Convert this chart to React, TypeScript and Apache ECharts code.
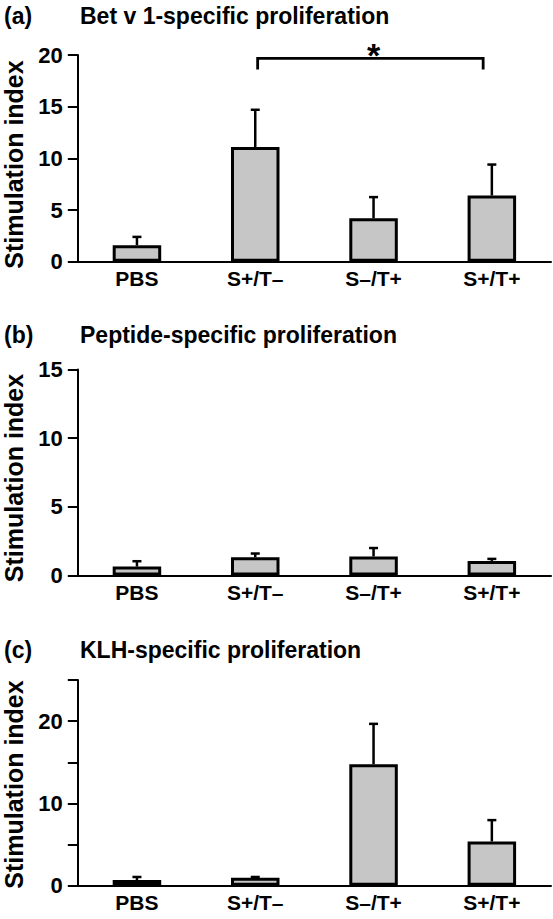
import React, { useEffect, useRef } from 'react';
import * as echarts from 'echarts';

// ---- data ----
const categories = ['PBS', 'S+/T–', 'S–/T+', 'S+/T+'];
const betMean = [1.6, 11.1, 4.2, 6.4];
const betSem = [0.8, 3.6, 2.05, 3.0];
const peptideMean = [0.65, 1.33, 1.38, 1.06];
const peptideSem = [0.39, 0.27, 0.62, 0.15];
const klhMean = [0.69, 0.98, 14.76, 5.37];
const klhSem = [0.37, 0.08, 4.91, 2.6];
const panelLetters = ['(a)', '(b)', '(c)'];
const panelTitles = [
  'Bet v 1-specific proliferation',
  'Peptide-specific proliferation',
  'KLH-specific proliferation',
];
const yAxisName = 'Stimulation index';
const yMaxes = [20, 15, 25];
const yTickStep = 5;
const yLabelSteps = [5, 5, 10];
// significance bracket in panel (a): between category 1 and 3
const sigFrom = 1;
const sigTo = 3;
const sigLevel = 19.68;
const sigLegEnd = 18.6;
const sigLabel = '*';

// ---- layout / style ----
const FONT = "'Liberation Sans', Arial, Helvetica, sans-serif";
const gridLeft = 77.8;
const gridWidth = 473.2;
const gridTops = [55, 369.5, 680];
const gridHeights = [206.7, 206, 205.7];
const titleYs = [16, 335.3, 650.3];
const nameYs = [164.5, 478, 784.5];
const barFill = '#c6c6c6';

export default function App() {
  const ref = useRef<HTMLDivElement>(null);

  useEffect(() => {
    if (!ref.current) return;
    const chart = echarts.init(ref.current, null, { renderer: 'svg' });

    const means = [betMean, peptideMean, klhMean];
    const sems = [betSem, peptideSem, klhSem];

    const grids = gridTops.map((t, i) => ({
      left: gridLeft,
      top: t,
      width: gridWidth,
      height: gridHeights[i],
      containLabel: false,
    }));

    const xAxes = means.map((_, i) => ({
      type: 'category',
      gridIndex: i,
      data: categories,
      boundaryGap: true,
      axisLine: { show: true, lineStyle: { color: '#000', width: 2 } },
      axisTick: { show: false },
      axisLabel: {
        color: '#000',
        fontSize: 21,
        fontWeight: 'bold',
        fontFamily: FONT,
        margin: 6,
        interval: 0,
      },
    }));

    const yAxes = means.map((_, i) => ({
      type: 'value',
      gridIndex: i,
      min: 0,
      max: yMaxes[i],
      interval: yTickStep,
      axisLine: { show: true, lineStyle: { color: '#000', width: 2 } },
      axisTick: { show: true, length: 10, lineStyle: { color: '#000', width: 2 } },
      splitLine: { show: false },
      axisLabel: {
        color: '#000',
        fontSize: 22,
        fontWeight: 'bold',
        fontFamily: FONT,
        margin: 15,
        formatter: (v: number) => (v % yLabelSteps[i] === 0 ? String(v) : ''),
      },
    }));

    const series: any[] = [];
    means.forEach((m, i) => {
      series.push({
        type: 'bar',
        xAxisIndex: i,
        yAxisIndex: i,
        data: m,
        barWidth: '41%',
        silent: true,
        itemStyle: { color: barFill, borderColor: '#000', borderWidth: 3 },
        z: 2,
      });
      series.push({
        type: 'custom',
        xAxisIndex: i,
        yAxisIndex: i,
        silent: true,
        z: 3,
        encode: { x: 0, y: 2 },
        data: m.map((v, k) => [k, v, v + sems[i][k]]),
        renderItem: (params: any, api: any) => {
          const idx = api.value(0);
          const base = api.coord([idx, api.value(1)]);
          const top = api.coord([idx, api.value(2)]);
          return {
            type: 'group',
            children: [
              {
                type: 'line',
                shape: { x1: base[0], y1: base[1], x2: top[0], y2: top[1] },
                style: { stroke: '#000', lineWidth: 2.5 },
              },
              {
                type: 'line',
                shape: { x1: top[0] - 4.5, y1: top[1], x2: top[0] + 4.5, y2: top[1] },
                style: { stroke: '#000', lineWidth: 2.5 },
              },
            ],
          };
        },
      });
    });

    // significance bracket (panel a)
    series.push({
      type: 'custom',
      xAxisIndex: 0,
      yAxisIndex: 0,
      silent: true,
      clip: false,
      z: 4,
      encode: { x: 0, y: 2 },
      data: [[sigFrom, sigTo, sigLevel, sigLegEnd]],
      renderItem: (params: any, api: any) => {
        const a = api.coord([api.value(0), api.value(2)]);
        const b = api.coord([api.value(1), api.value(2)]);
        const legY = api.coord([api.value(0), api.value(3)])[1];
        const mid = api.coord([(api.value(0) + api.value(1)) / 2, api.value(2)]);
        const lx = a[0] + 2.4;
        const rx = b[0] - 8.7;
        return {
          type: 'group',
          children: [
            {
              type: 'polyline',
              shape: { points: [[lx, legY], [lx, a[1]], [rx, b[1]], [rx, legY]] },
              style: { stroke: '#000', lineWidth: 2.8, fill: 'none' },
            },
            {
              type: 'text',
              x: mid[0],
              y: a[1] - 3.7,
              style: {
                text: sigLabel,
                fontSize: 34,
                fontWeight: 'bold',
                fontFamily: FONT,
                fill: '#000',
                align: 'center',
                verticalAlign: 'middle',
              },
            },
          ],
        };
      },
    });

    const graphics: any[] = [];
    panelLetters.forEach((letter, i) => {
      graphics.push({
        type: 'text',
        x: 4,
        y: titleYs[i],
        style: {
          text: letter,
          fontSize: 23,
          fontWeight: 'bold',
          fontFamily: FONT,
          fill: '#000',
          align: 'left',
          verticalAlign: 'middle',
        },
      });
      graphics.push({
        type: 'text',
        x: 80,
        y: titleYs[i],
        style: {
          text: panelTitles[i],
          fontSize: 23,
          fontWeight: 'bold',
          fontFamily: FONT,
          fill: '#000',
          align: 'left',
          verticalAlign: 'middle',
        },
      });
      graphics.push({
        type: 'text',
        x: 14,
        y: nameYs[i],
        rotation: Math.PI / 2,
        style: {
          text: yAxisName,
          fontSize: 25,
          fontWeight: 'bold',
          fontFamily: FONT,
          fill: '#000',
          align: 'center',
          verticalAlign: 'middle',
        },
      });
    });

    chart.setOption({
      animation: false,
      backgroundColor: '#fff',
      grid: grids,
      xAxis: xAxes,
      yAxis: yAxes,
      series,
      graphic: graphics,
    });

    return () => chart.dispose();
  }, []);

  return (
    <div
      ref={ref}
      style={{ position: 'absolute', left: 0, top: 0, width: 553, height: 919 }}
    />
  );
}
